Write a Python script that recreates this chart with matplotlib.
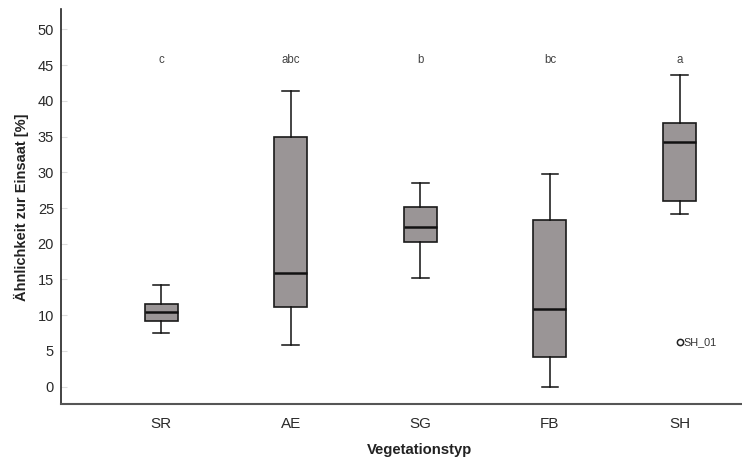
import matplotlib
matplotlib.use("Agg")
import matplotlib.pyplot as plt

categories = ["SR", "AE", "SG", "FB", "SH"]
whisker_low = [7.5, 5.9, 15.2, 0.0, 24.2]
q1 = [9.2, 11.1, 20.3, 4.2, 25.95]
median = [10.5, 15.9, 22.3, 10.9, 34.2]
q3 = [11.6, 34.9, 25.2, 23.3, 36.9]
whisker_high = [14.2, 41.4, 28.5, 29.8, 43.6]
fliers = [[], [], [], [], [6.2]]
flier_labels = [[], [], [], [], ["SH_01"]]
letters = ["c", "abc", "b", "bc", "a"]
letter_y = 45.7
yticks = [0, 5, 10, 15, 20, 25, 30, 35, 40, 45, 50]

plt.rcParams['font.family'] = ['Liberation Sans', 'DejaVu Sans']

fig = plt.figure(figsize=(7.42, 4.59), dpi=100)
ax = fig.add_axes([61/742, 1 - 404.3/459, (742-61)/742, (404.3-9.3)/459])

stats = []
for i, c in enumerate(categories):
    stats.append(dict(label=c, whislo=whisker_low[i], q1=q1[i], med=median[i],
                      q3=q3[i], whishi=whisker_high[i], fliers=fliers[i]))
pos = list(range(1, len(categories) + 1))
ax.bxp(stats, positions=pos, widths=0.255, patch_artist=True, showfliers=False,
       boxprops=dict(facecolor="#9a9596", edgecolor="#1a1a1a", linewidth=1.2),
       medianprops=dict(color="#111111", linewidth=1.8),
       whiskerprops=dict(color="#111111", linewidth=1.1),
       capprops=dict(color="#111111", linewidth=1.1))

for i, (fl, lb) in enumerate(zip(fliers, flier_labels)):
    for v, t in zip(fl, lb):
        ax.plot([pos[i]], [v], marker='o', markersize=4.5, markerfacecolor='white',
                markeredgecolor='#222222', markeredgewidth=1.1, linestyle='none')
        ax.annotate(t, (pos[i], v), xytext=(2.5, 0), textcoords='offset points',
                    ha='left', va='center', fontsize=7.8, color='#333333')

for i, l in enumerate(letters):
    ax.text(pos[i], letter_y, l, ha='center', va='center', fontsize=8.3, color='#444444')

ax.set_xlim(0.228, 5.482)
ax.set_ylim(-2.46, 52.8)
ax.set_yticks(yticks)
ax.set_xticks(pos)
ax.set_xticklabels(categories)
ax.tick_params(axis='y', direction='in', length=4, width=0.8, color='#dddddd',
               labelsize=10.5, labelcolor='#2a2a2a', pad=5)
ax.tick_params(axis='x', length=0, labelsize=11, labelcolor='#2a2a2a', pad=9)
for s in ['top', 'right']:
    ax.spines[s].set_visible(False)
ax.spines['left'].set_color('#222222')
ax.spines['left'].set_linewidth(1.2)
ax.spines['bottom'].set_color('#555555')
ax.spines['bottom'].set_linewidth(1.5)

ax.set_ylabel("Ähnlichkeit zur Einsaat [%]", fontsize=10.5, fontweight='bold', color='#222222')
ax.set_xlabel("Vegetationstyp", fontsize=10.7, fontweight='bold', color='#222222')
ax.yaxis.set_label_coords((21 - 61) / 681, 0.5)
ax.xaxis.set_label_coords((420 - 61) / 681, -(450 - 404.3) / 395)
ax.xaxis.label.set_va('center')
ax.yaxis.label.set_va('center')

fig.savefig("out.png", dpi=100)
